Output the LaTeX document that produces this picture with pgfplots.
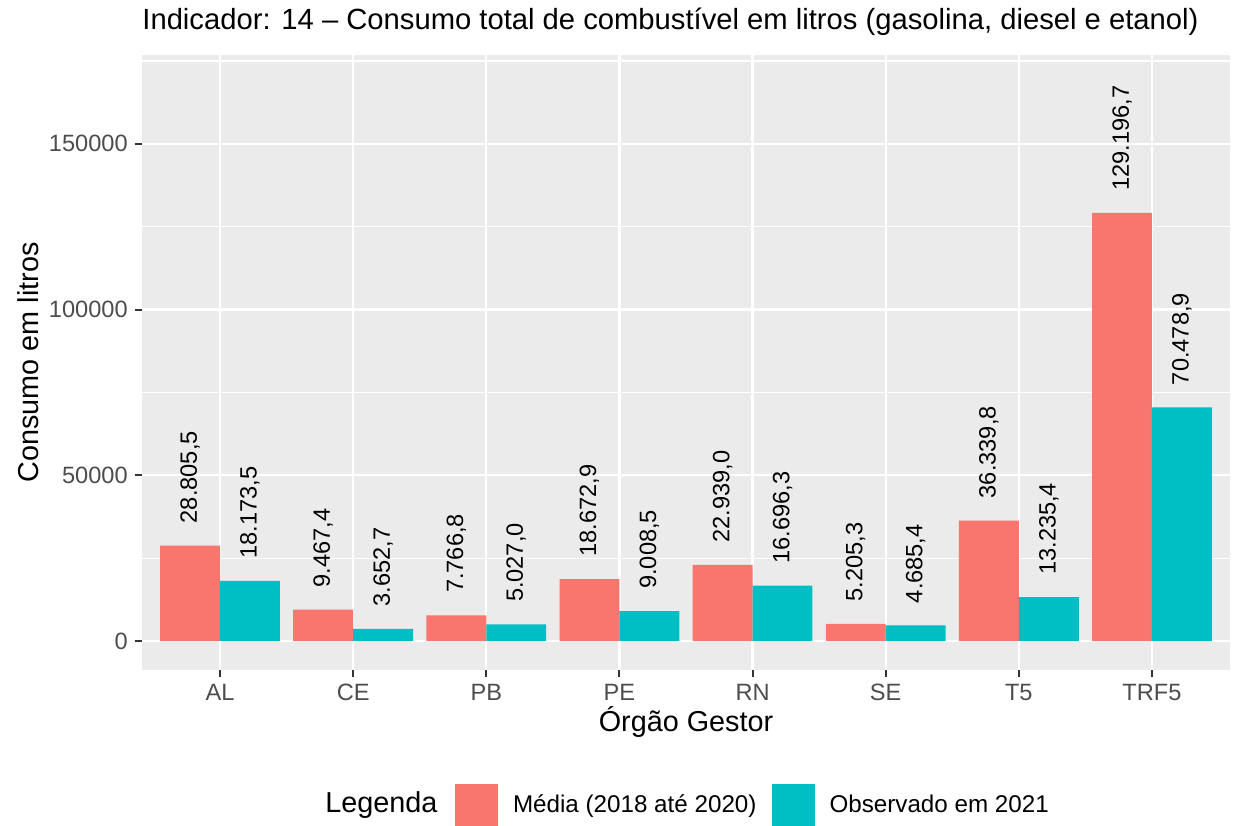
\documentclass[border=0pt]{standalone}
\usepackage{fontspec}
\setmainfont{Liberation Sans}
\usepackage{pgfplots}
\pgfplotsset{compat=1.18}
\usepackage{pgfplotstable}
\definecolor{cred}{HTML}{F8766D}
\definecolor{cblue}{HTML}{00BFC4}
\definecolor{panel}{HTML}{EBEBEB}
\definecolor{g30}{HTML}{4D4D4D}
\definecolor{g20}{HTML}{333333}

\pgfplotstableread{
x y lab
0 28805.5 28.805,5
1 9467.4 9.467,4
2 7766.8 7.766,8
3 18672.9 18.672,9
4 22939.0 22.939,0
5 5205.3 5.205,3
6 36339.8 36.339,8
7 129196.7 129.196,7
}\media

\pgfplotstableread{
x y lab
0 18173.5 18.173,5
1 3652.7 3.652,7
2 5027.0 5.027,0
3 9008.5 9.008,5
4 16696.3 16.696,3
5 4685.4 4.685,4
6 13235.4 13.235,4
7 70478.9 70.478,9
}\obs

\newcommand{\fbig}{\fontsize{14.4}{17}\selectfont}
\newcommand{\ftitle}{\fontsize{14.6}{17}\selectfont}
\newcommand{\fsmall}{\fontsize{11.8}{14}\selectfont}
\newcommand{\fleg}{\fontsize{12.1}{14}\selectfont}

\begin{document}
\begin{tikzpicture}
\path[use as bounding box] (-71pt,-77.5pt) rectangle (546.5pt,335pt);
\begin{axis}[
  at={(0pt,0pt)}, anchor=south west,
  scale only axis, width=544pt, height=307.5pt,
  xmin=-0.586, xmax=7.586, ymin=-8750, ymax=176800,
  axis background/.style={fill=panel},
  axis line style={draw=none},
  ybar=0pt, bar width=0.45,
  xtick={0,...,7}, xticklabels={AL,CE,PB,PE,RN,SE,T5,TRF5},
  ytick={0,50000,100000,150000},
  yticklabels={0,50000,100000,150000},
  minor ytick={25000,75000,125000,175000},
  xmajorgrids, ymajorgrids, yminorgrids,
  major grid style={white, line width=1.1pt},
  minor grid style={white, line width=0.55pt},
  tick pos=left,
  tick align=outside, major tick length=3.6pt, minor tick length=0pt,
  major tick style={g20, line width=1pt},
  scaled y ticks=false,
  tick label style={font=\fsmall, text=g30},
  nodes near coords={\pgfplotspointmeta},
  point meta=explicit symbolic,
  every node near coord/.append style={rotate=90, anchor=west, inner sep=0pt, xshift=11pt, font=\fsmall, text=black},
  legend columns=2,
  legend cell align=left,
  legend image code/.code={\fill[#1] (0pt,-10.75pt) rectangle (21.5pt,10.75pt);},
  legend style={at={(0.2877,-0.2195)}, anchor=west, draw=none, fill=none,
    inner sep=0pt, outer sep=0pt, font=\fleg, column sep=0pt,
    nodes={inner sep=0pt},
    /tikz/every odd column/.append style={column sep=7.5pt},
    /tikz/every even column/.append style={column sep=7.5pt}},
]
\addplot[fill=cred, draw=none] table[x=x, y=y, meta=lab]{\media};
\addlegendentry{Média (2018 até 2020)}
\addplot[fill=cblue, draw=none] table[x=x, y=y, meta=lab]{\obs};
\addlegendentry{Observado em 2021}
\end{axis}
\node[anchor=west, inner sep=0pt, font=\ftitle] at (0pt,324pt) {Indicador: 14 – Consumo total de combustível em litros (gasolina, diesel e etanol)};
\node[rotate=90, font=\fbig] at (-57pt,153.75pt) {Consumo em litros};
\node[font=\fbig] at (272pt,-26pt) {Órgão Gestor};
\node[anchor=west, inner sep=0pt, font=\fbig] at (91.5pt,-67.5pt) {Legenda};
\end{tikzpicture}
\end{document}
